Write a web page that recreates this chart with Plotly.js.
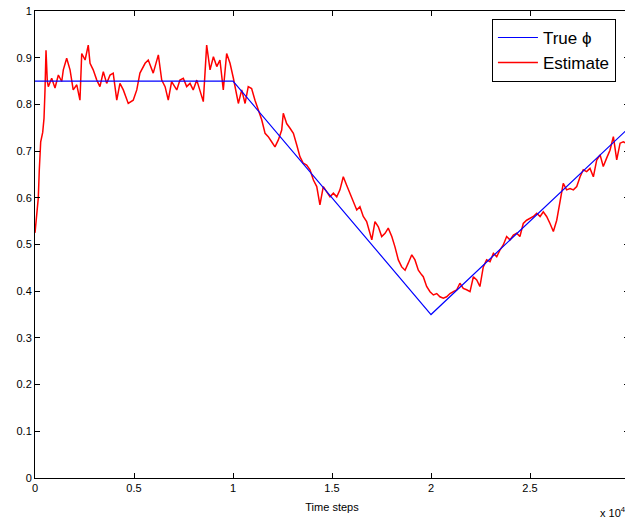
<!DOCTYPE html>
<html>
<head>
<meta charset="utf-8">
<script src="https://cdn.plot.ly/plotly-3.0.1.min.js"></script>
<style>
html,body{margin:0;padding:0;overflow:hidden;background:#fff;}
#chart{width:640px;height:518px;}
</style>
</head>
<body>
<div id="chart"></div>
<script>
// Time steps in units of 10^4
var trueX = [0, 1, 2, 3];
var trueY = [0.85, 0.85, 0.35, 0.75];

var estX = [0,0.0086,0.0167,0.0217,0.0288,0.0389,0.0455,0.0505,0.0556,0.0621,0.0672,0.0843,0.101,0.118,0.135,0.143,0.160,0.177,0.193,0.211,0.227,0.236,0.253,0.269,0.278,0.294,0.312,0.328,0.345,0.362,0.379,0.395,0.413,0.429,0.446,0.471,0.496,0.514,0.530,0.556,0.572,0.597,0.623,0.640,0.657,0.673,0.690,0.716,0.732,0.749,0.766,0.783,0.799,0.817,0.833,0.850,0.867,0.884,0.901,0.918,0.934,0.951,0.968,0.985,1.002,1.010,1.027,1.044,1.061,1.077,1.094,1.111,1.128,1.145,1.162,1.178,1.195,1.212,1.229,1.246,1.254,1.271,1.288,1.305,1.322,1.338,1.355,1.372,1.389,1.406,1.423,1.439,1.456,1.473,1.490,1.507,1.524,1.540,1.557,1.574,1.591,1.608,1.625,1.641,1.658,1.675,1.701,1.717,1.734,1.751,1.768,1.784,1.802,1.818,1.835,1.852,1.869,1.885,1.903,1.919,1.936,1.953,1.961,1.978,1.995,2.012,2.029,2.045,2.062,2.079,2.096,2.113,2.130,2.146,2.163,2.180,2.197,2.214,2.231,2.247,2.264,2.281,2.298,2.315,2.332,2.348,2.365,2.382,2.399,2.416,2.433,2.449,2.466,2.483,2.500,2.517,2.534,2.551,2.567,2.584,2.601,2.618,2.635,2.652,2.668,2.685,2.702,2.719,2.736,2.753,2.769,2.786,2.803,2.820,2.837,2.854,2.870,2.887,2.904,2.921,2.938,2.955,2.971,2.995];
var estY = [0.525,0.574,0.600,0.660,0.720,0.740,0.770,0.830,0.916,0.850,0.838,0.856,0.835,0.863,0.849,0.874,0.899,0.874,0.831,0.842,0.809,0.909,0.895,0.927,0.888,0.874,0.852,0.838,0.870,0.845,0.863,0.867,0.809,0.845,0.831,0.802,0.809,0.831,0.867,0.888,0.895,0.867,0.906,0.852,0.838,0.809,0.849,0.831,0.852,0.856,0.838,0.845,0.831,0.852,0.827,0.806,0.927,0.874,0.902,0.881,0.895,0.831,0.909,0.888,0.856,0.838,0.802,0.831,0.802,0.838,0.834,0.809,0.788,0.767,0.738,0.731,0.720,0.709,0.724,0.745,0.781,0.759,0.749,0.738,0.713,0.688,0.674,0.670,0.660,0.638,0.624,0.585,0.624,0.613,0.602,0.610,0.602,0.617,0.645,0.627,0.610,0.592,0.574,0.581,0.560,0.549,0.510,0.549,0.538,0.517,0.524,0.535,0.517,0.495,0.467,0.452,0.445,0.460,0.478,0.467,0.445,0.435,0.431,0.410,0.399,0.392,0.395,0.388,0.385,0.388,0.395,0.399,0.403,0.417,0.406,0.403,0.399,0.431,0.424,0.410,0.452,0.467,0.463,0.481,0.474,0.488,0.499,0.517,0.510,0.520,0.524,0.517,0.545,0.552,0.556,0.560,0.567,0.560,0.570,0.560,0.545,0.528,0.552,0.595,0.631,0.617,0.620,0.617,0.624,0.645,0.660,0.656,0.663,0.645,0.681,0.692,0.667,0.685,0.702,0.731,0.681,0.717,0.720,0.715];

var xTicks = [0, 0.5, 1, 1.5, 2, 2.5, 3];
var xTickText = ['0', '0.5', '1', '1.5', '2', '2.5', '3'];
var yTicks = [0, 0.1, 0.2, 0.3, 0.4, 0.5, 0.6, 0.7, 0.8, 0.9, 1];
var yTickText = ['0', '0.1', '0.2', '0.3', '0.4', '0.5', '0.6', '0.7', '0.8', '0.9', '1'];

var FONT = 'Liberation Sans, Arial, sans-serif';

var traces = [
  {x: estX, y: estY, type: 'scatter', mode: 'lines', name: 'Estimate',
   line: {color: '#ff0000', width: 1.5}},
  {x: trueX, y: trueY, type: 'scatter', mode: 'lines', name: 'True \u03d5',
   line: {color: '#0000ff', width: 1.2}}
];

var axisCommon = {
  showline: true, linecolor: '#000', linewidth: 1, mirror: 'allticks',
  ticks: 'inside', ticklen: 5, tickcolor: '#000', tickwidth: 1,
  showgrid: false, zeroline: false,
  tickfont: {family: FONT, size: 11, color: '#000'}
};

var layout = {
  width: 640, height: 518,
  margin: {l: 35, r: 11, t: 11, b: 40},
  paper_bgcolor: '#fff', plot_bgcolor: '#fff',
  showlegend: true,
  legend: {
    x: 0.978, y: 0.983, xanchor: 'right', yanchor: 'top',
    bgcolor: '#fff', bordercolor: '#000', borderwidth: 1,
    traceorder: 'reversed', itemwidth: 40,
    font: {family: FONT, size: 17, color: '#000'}
  },
  xaxis: Object.assign({}, axisCommon, {
    range: [0, 3], tickvals: xTicks, ticktext: xTickText,
    title: {text: 'Time steps', standoff: 10,
            font: {family: FONT, size: 11, color: '#000'}}
  }),
  yaxis: Object.assign({}, axisCommon, {
    range: [0, 1], tickvals: yTicks, ticktext: yTickText
  }),
  annotations: [{
    text: 'x 10<sup>4</sup>', xref: 'paper', yref: 'paper',
    x: 0.948, y: -0.073, xanchor: 'left', yanchor: 'middle', showarrow: false,
    font: {family: FONT, size: 11, color: '#000'}
  }]
};

Plotly.newPlot('chart', traces, layout, {displayModeBar: false, staticPlot: true});
</script>
</body>
</html>
